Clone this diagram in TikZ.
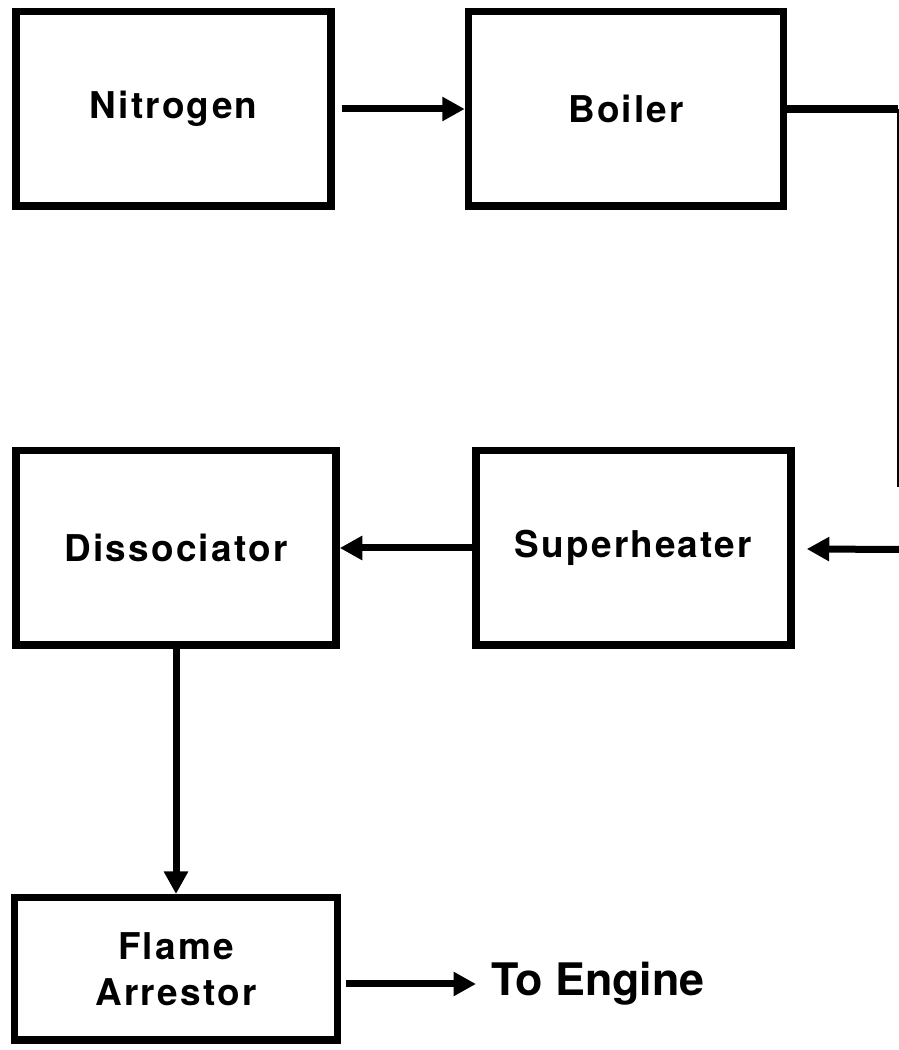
\documentclass[tikz,border=0pt]{standalone}
\usepackage{fontspec}
\setmainfont{TeX Gyre Heros}
\newfontfamily\boxfont{TeX Gyre Heros}[LetterSpace=6]
\usetikzlibrary{arrows.meta,positioning}
\tikzset{
  plantpicture/.style={node distance=4.74cm and 2.6cm},
  plantbox/.style={draw, line width=0.15cm, align=center, minimum width=6.3cm, minimum height=3.89cm, font=\boxfont\bfseries\fontsize{21}{26}\selectfont},
  plantwide/.style={plantbox, minimum width=6.4cm},
  plantshort/.style={plantbox, minimum height=2.85cm, minimum width=6.45cm},
  plantlabel/.style={font=\bfseries\fontsize{25.5}{30}\selectfont, inner sep=0.3cm},
  plantarrow/.style={-{Triangle[length=0.45cm, width=0.46cm]}, line width=0.14cm},
  plantline/.style={line width=0.15cm},
  plantthin/.style={line width=0.8pt}
}
\begin{document}
\begin{tikzpicture}[plantpicture]
\useasboundingbox[fill=white] (0,0) rectangle (17.98,21);
\node[plantbox] (nitrogen) at (3.47,18.82) {Nitrogen};
\node[plantbox, right=of nitrogen] (boiler) {Boiler};
\node[plantwide, below=of nitrogen.south west, anchor=north west] (dissociator) {Dissociator};
\node[plantbox, right=2.65cm of dissociator] (superheater) {Superheater};
\node[plantshort, below=4.9cm of dissociator] (arrestor) {Flame\\Arrestor};
\node[plantlabel, right=2.7cm of arrestor, yshift=-0.3cm] (engine) {To Engine};
\coordinate (bend) at (17.96,18.82);
\coordinate (drop) at (17.96,11.26);
\coordinate (feed) at (17.98,10.01);
\draw[plantarrow, shorten <=0.15cm] (nitrogen) -- (boiler);
\draw[plantline] (boiler) -- (bend);
\draw[plantthin] (bend) -- (drop);
\draw[plantarrow, shorten >=0.24cm] (feed) -- (superheater);
\draw[plantarrow] (superheater) -- (dissociator);
\draw[plantarrow] (dissociator) -- (arrestor);
\draw[plantarrow, shorten <=0.1cm] (arrestor.east |- engine.west) -- (engine);
\end{tikzpicture}
\end{document}
